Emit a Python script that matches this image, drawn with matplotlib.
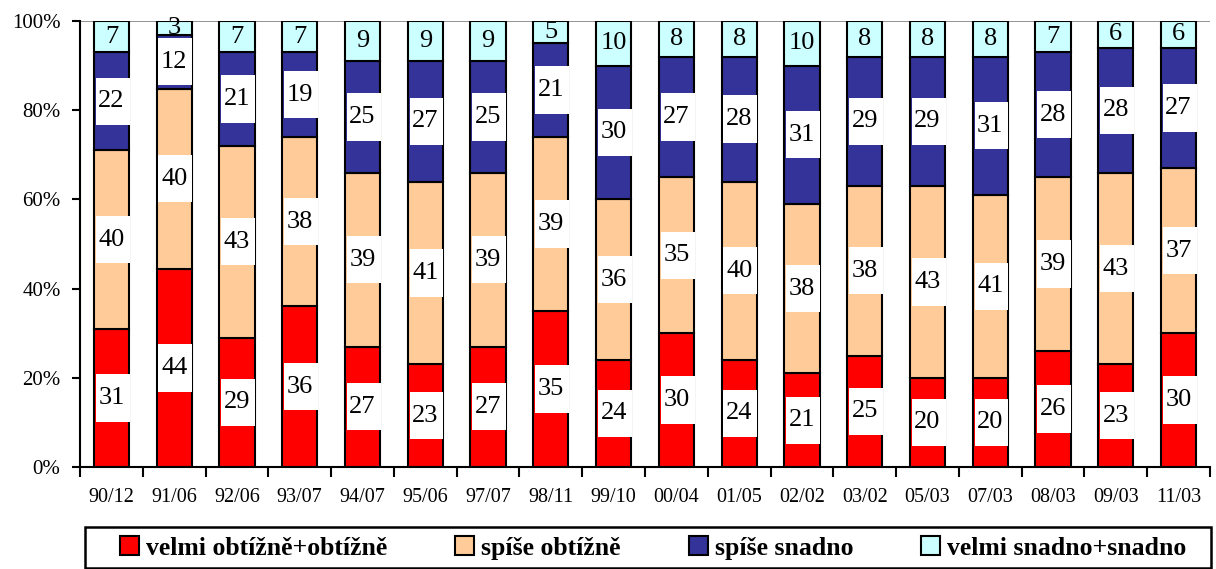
import matplotlib.pyplot as plt
import matplotlib.patches as mpatches
import numpy as np

plt.rcParams['font.family'] = ['Liberation Serif', 'DejaVu Serif']

labels = ['90/12', '91/06', '92/06', '93/07', '94/07', '95/06', '97/07', '98/11', '99/10',
          '00/04', '01/05', '02/02', '03/02', '05/03', '07/03', '08/03', '09/03', '11/03']
hard = [31, 44, 29, 36, 27, 23, 27, 35, 24, 30, 24, 21, 25, 20, 20, 26, 23, 30]
rather_hard = [40, 40, 43, 38, 39, 41, 39, 39, 36, 35, 40, 38, 38, 43, 41, 39, 43, 37]
rather_easy = [22, 12, 21, 19, 25, 27, 25, 21, 30, 27, 28, 31, 29, 29, 31, 28, 28, 27]
easy = [7, 3, 7, 7, 9, 9, 9, 5, 10, 8, 8, 10, 8, 8, 8, 7, 6, 6]

series = [hard, rather_hard, rather_easy, easy]
names = ['velmi obtížně+obtížně', 'spíše obtížně', 'spíše snadno', 'velmi snadno+snadno']
colors = ['#FF0000', '#FFCC99', '#333399', '#CCFFFF']

data = np.array(series, dtype=float)
pct = data / data.sum(axis=0) * 100

fig = plt.figure(figsize=(12.16, 5.69), dpi=100)
ax = fig.add_axes([80/1216, (569-467)/569, (1210-80)/1216, (467-21)/569])

x = np.arange(len(labels))
w = 0.56
bottom = np.zeros(len(labels))
handles = []
for i in range(4):
    b = ax.bar(x, pct[i], w, bottom=bottom, color=colors[i], edgecolor='black',
               linewidth=1.5, label=names[i], zorder=2)
    handles.append(b)
    for j in range(len(labels)):
        yc = bottom[j] + pct[i][j] / 2
        if i < 3:
            # white label box (about 47 px tall)
            ax.add_patch(mpatches.Rectangle((x[j] - w/2 + 0.03, yc - 5.3), w - 0.02, 10.6,
                                            facecolor='white', edgecolor='none', zorder=3))
        ax.text(x[j], yc, str(series[i][j]), ha='center', va='center', fontsize=19, zorder=4)
    bottom += pct[i]

ax.set_xlim(-0.5, len(labels) - 0.5)
ax.set_ylim(0, 100)
ax.set_yticks([0, 20, 40, 60, 80, 100])
ax.set_yticklabels([f'{v}%' for v in range(0, 101, 20)], fontsize=15)
ax.axhline(100, color='gray', linewidth=1.2, zorder=0)

ax.set_xticks(x)
ax.set_xticklabels(labels, fontsize=14.5)
ax.tick_params(axis='x', which='major', length=0, pad=15)
ax.set_xticks(np.arange(-0.5, len(labels), 1), minor=True)
ax.tick_params(axis='x', which='minor', length=7, width=1.5, direction='out')
ax.tick_params(axis='y', length=6, width=1.5, direction='out', pad=8)

for s in ['top', 'right']:
    ax.spines[s].set_visible(False)
ax.spines['left'].set_linewidth(1.5)
ax.spines['bottom'].set_linewidth(1.5)

# legend frame drawn by hand, legend itself without frame
fig.patches.append(mpatches.Rectangle((85/1216, 1/569), (1211-85)/1216, (568-527)/569,
                                      transform=fig.transFigure, fill=False,
                                      edgecolor='black', linewidth=1.8))
fig.legend(handles=handles, loc='center left', ncol=4,
           bbox_to_anchor=(120/1216, (569-548)/569),
           prop={'family': 'Liberation Serif', 'weight': 'bold', 'size': 18.5},
           frameon=False, handlelength=0.74, handleheight=0.74, handletextpad=0.27,
           columnspacing=2.65, borderpad=0, borderaxespad=0)

plt.savefig('out.png', dpi=100)
